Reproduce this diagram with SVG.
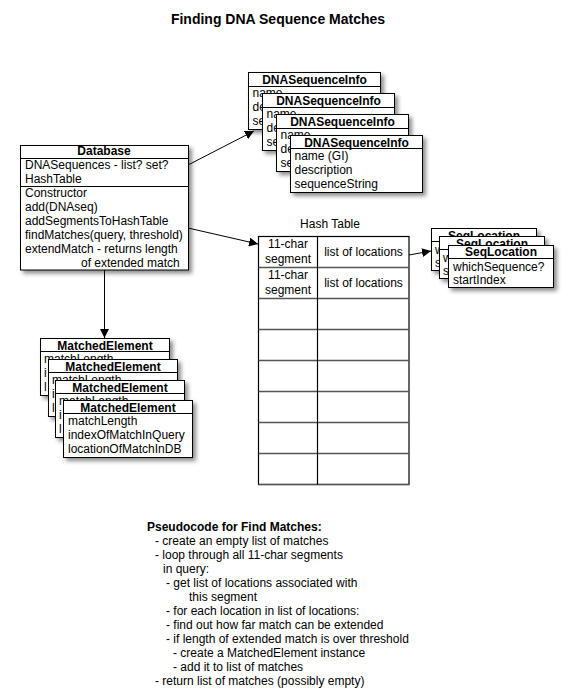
<svg xmlns="http://www.w3.org/2000/svg" width="572" height="698" viewBox="0 0 572 698">
<defs>
<filter id="sh" x="-10%" y="-10%" width="130%" height="140%">
<feDropShadow dx="3" dy="3" stdDeviation="2" flood-color="#000" flood-opacity="0.45"/>
</filter>
<marker id="ah" viewBox="0 0 10 10" refX="10" refY="5" markerWidth="9" markerHeight="9" markerUnits="userSpaceOnUse" orient="auto">
<path d="M0,0 L10,5 L0,10 Z" fill="#000"/>
</marker>
</defs>
<style>
.box{fill:#fff;stroke:#000;stroke-width:1;filter:url(#sh)}
.ln{stroke:#000;stroke-width:1;fill:none}
.rl{stroke:#555;stroke-width:1.5;fill:none}
text{font-family:"Liberation Sans",Arial,Helvetica,sans-serif;font-size:12px;fill:#000}
.b{font-weight:bold}
.c{text-anchor:middle}
.ttl{font-size:14px;font-weight:bold}
.con{stroke:#000;stroke-width:1;fill:none;marker-end:url(#ah)}
</style>
<rect width="572" height="698" fill="#fff"/>
<text class="ttl c" x="278" y="24">Finding DNA Sequence Matches</text>

<g id="connectors">
<line class="con" x1="188" y1="165" x2="254" y2="131"/>
<line class="con" x1="188" y1="228" x2="258" y2="244"/>
<line class="con" x1="104.5" y1="270" x2="104.5" y2="338"/>
<line class="con" x1="409" y1="255" x2="431" y2="251"/>
</g>

<g id="database">
<rect class="box" x="20.5" y="145.5" width="168" height="124.5"/>
<line class="ln" x1="20.5" y1="158.5" x2="188.5" y2="158.5"/>
<line class="ln" x1="20.5" y1="186.5" x2="188.5" y2="186.5"/>
<text class="b c" x="104" y="155">Database</text>
<text x="25" y="169">DNASequences - list? set?</text>
<text x="25" y="183">HashTable</text>
<text x="25" y="197">Constructor</text>
<text x="25" y="211">add(DNAseq)</text>
<text x="25" y="225">addSegmentsToHashTable</text>
<text x="25" y="239">findMatches(query, threshold)</text>
<text x="25" y="253">extendMatch - returns length</text>
<text x="81" y="267">of extended match</text>
</g>

<g id="dnaseqinfo1">
<rect class="box" x="248.5" y="72.5" width="132" height="57"/>
<line class="ln" x1="248.5" y1="86.5" x2="380.5" y2="86.5"/>
<text class="b c" x="314.5" y="83.5">DNASequenceInfo</text>
<text x="252.5" y="97">name</text>
<text x="252.5" y="111">de</text>
<text x="252.5" y="125">se</text>
</g>
<g id="dnaseqinfo2">
<rect class="box" x="262.5" y="93.5" width="132" height="57"/>
<line class="ln" x1="262.5" y1="107.5" x2="394.5" y2="107.5"/>
<text class="b c" x="328.5" y="104.5">DNASequenceInfo</text>
<text x="266.5" y="118">name</text>
<text x="266.5" y="132">de</text>
<text x="266.5" y="146">se</text>
</g>
<g id="dnaseqinfo3">
<rect class="box" x="276.5" y="114.5" width="132" height="57"/>
<line class="ln" x1="276.5" y1="128.5" x2="408.5" y2="128.5"/>
<text class="b c" x="342.5" y="125.5">DNASequenceInfo</text>
<text x="280.5" y="139">name</text>
<text x="280.5" y="153">de</text>
<text x="280.5" y="167">se</text>
</g>
<g id="dnaseqinfo4">
<rect class="box" x="290.5" y="135.5" width="132" height="57"/>
<line class="ln" x1="290.5" y1="148.5" x2="422.5" y2="148.5"/>
<text class="b c" x="356.5" y="146.5">DNASequenceInfo</text>
<text x="294.5" y="160">name (GI)</text>
<text x="294.5" y="174">description</text>
<text x="294.5" y="188">sequenceString</text>
</g>

<g id="hashtable">
<text class="c" x="330" y="228">Hash Table</text>
<rect x="258.5" y="236.5" width="150.5" height="248" fill="#fff" stroke="#000" stroke-width="1.2"/>
<line class="rl" x1="258.5" y1="267.5" x2="409" y2="267.5"/>
<line class="rl" x1="258.5" y1="298.5" x2="409" y2="298.5"/>
<line class="rl" x1="258.5" y1="329.5" x2="409" y2="329.5"/>
<line class="rl" x1="258.5" y1="360.5" x2="409" y2="360.5"/>
<line class="rl" x1="258.5" y1="391.5" x2="409" y2="391.5"/>
<line class="rl" x1="258.5" y1="422.5" x2="409" y2="422.5"/>
<line class="rl" x1="258.5" y1="453.5" x2="409" y2="453.5"/>
<line class="rl" x1="258.5" y1="484.5" x2="409" y2="484.5"/>
<line x1="317.5" y1="236.5" x2="317.5" y2="484.5" stroke="#000" stroke-width="1.2"/>
<text class="c" x="288" y="248">11-char</text>
<text class="c" x="288" y="263">segment</text>
<text class="c" x="363.5" y="256">list of locations</text>
<text class="c" x="288" y="279">11-char</text>
<text class="c" x="288" y="294">segment</text>
<text class="c" x="363.5" y="287">list of locations</text>
</g>

<g id="seqlocation1">
<rect class="box" x="431.5" y="228.5" width="105" height="42"/>
<line class="ln" x1="431.5" y1="241.5" x2="536.5" y2="241.5"/>
<text class="b c" x="484" y="239.5">SeqLocation</text>
<text x="435" y="253.5">w</text>
<text x="435" y="267">s</text>
</g>
<g id="seqlocation2">
<rect class="box" x="439.5" y="236.5" width="105" height="42"/>
<line class="ln" x1="439.5" y1="249.5" x2="544.5" y2="249.5"/>
<text class="b c" x="492" y="247.5">SeqLocation</text>
<text x="443" y="261.5">w</text>
<text x="443" y="275">s</text>
</g>
<g id="seqlocation3">
<rect class="box" x="448.5" y="245.5" width="105" height="42"/>
<line class="ln" x1="448.5" y1="258.5" x2="553.5" y2="258.5"/>
<text class="b c" x="501" y="256">SeqLocation</text>
<text x="453" y="270.5">whichSequence?</text>
<text x="453" y="284">startIndex</text>
</g>

<g id="matched1">
<rect class="box" x="40.5" y="338.5" width="129" height="57"/>
<line class="ln" x1="40.5" y1="351.5" x2="169.5" y2="351.5"/>
<text class="b c" x="105" y="349.5">MatchedElement</text>
<text x="44" y="363">matchLength</text>
<text x="44" y="377">i</text>
<text x="44" y="391">l</text>
</g>
<g id="matched2">
<rect class="box" x="48.5" y="359.5" width="129" height="57"/>
<line class="ln" x1="48.5" y1="372.5" x2="177.5" y2="372.5"/>
<text class="b c" x="113" y="370.5">MatchedElement</text>
<text x="52" y="384">matchLength</text>
<text x="52" y="398">i</text>
<text x="52" y="412">l</text>
</g>
<g id="matched3">
<rect class="box" x="55.5" y="380.5" width="129" height="57"/>
<line class="ln" x1="55.5" y1="393.5" x2="184.5" y2="393.5"/>
<text class="b c" x="120" y="391.5">MatchedElement</text>
<text x="59" y="405">matchLength</text>
<text x="59" y="419">i</text>
<text x="59" y="433">l</text>
</g>
<g id="matched4">
<rect class="box" x="63.5" y="400.5" width="129" height="57"/>
<line class="ln" x1="63.5" y1="413.5" x2="192.5" y2="413.5"/>
<text class="b c" x="128" y="411.5">MatchedElement</text>
<text x="68" y="425">matchLength</text>
<text x="68" y="439">indexOfMatchInQuery</text>
<text x="68" y="453">locationOfMatchInDB</text>
</g>

<g id="pseudocode">
<text class="b" x="147" y="531">Pseudocode for Find Matches:</text>
<text x="155" y="545">- create an empty list of matches</text>
<text x="155" y="559">- loop through all 11-char segments</text>
<text x="163" y="573">in query:</text>
<text x="166" y="587">- get list of locations associated with</text>
<text x="189" y="601">this segment</text>
<text x="166" y="615">- for each location in list of locations:</text>
<text x="166" y="629">- find out how far match can be extended</text>
<text x="166" y="643">- if length of extended match is over threshold</text>
<text x="173" y="657">- create a MatchedElement instance</text>
<text x="173" y="671">- add it to list of matches</text>
<text x="155" y="685">- return list of matches (possibly empty)</text>
</g>
</svg>
